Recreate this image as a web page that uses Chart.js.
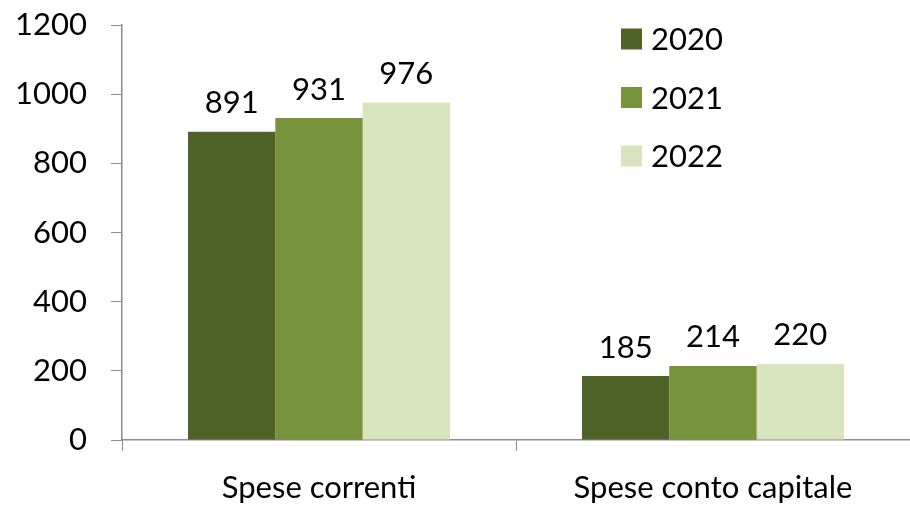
<!DOCTYPE html>
<html>
<head>
<meta charset="utf-8">
<script src="https://cdn.jsdelivr.net/npm/chart.js@4.4.1/dist/chart.umd.min.js"></script>
<style>
  html, body { margin: 0; padding: 0; background: #fff; }
  #wrap { width: 910px; height: 505px; }
</style>
</head>
<body>
<div id="wrap"><canvas id="chart"></canvas></div>
<script>
// dati del grafico
const categorie = ['Spese correnti', 'Spese conto capitale'];
const anni = ['2020', '2021', '2022'];
const valori2020 = [891, 185];
const valori2021 = [931, 214];
const valori2022 = [976, 220];
const colori = ['#4F6228', '#77933C', '#D7E4BD'];

const FONT = 'Lato, "Open Sans", sans-serif';
const AXIS = '#8c8c8c';

// etichette sopra le barre
const etichettePlugin = {
    id: 'etichette',
    afterDatasetsDraw(chart) {
        const ctx = chart.ctx;
        ctx.save();
        ctx.font = '31px ' + FONT;
        ctx.fillStyle = '#000';
        ctx.textAlign = 'center';
        ctx.textBaseline = 'bottom';
        chart.data.datasets.forEach((ds, i) => {
            chart.getDatasetMeta(i).data.forEach((bar, j) => {
                ctx.fillText(ds.data[j], bar.x, bar.y - 13);
            });
        });
        ctx.restore();
    }
};

// legenda disegnata in alto a destra
const legendaPlugin = {
    id: 'legenda',
    afterDraw(chart) {
        const ctx = chart.ctx;
        ctx.save();
        ctx.font = '31px ' + FONT;
        ctx.textBaseline = 'middle';
        chart.data.datasets.forEach((ds, i) => {
            const y = 39 + i * 58.5;
            ctx.fillStyle = ds.backgroundColor;
            ctx.fillRect(621, y - 10.5, 21, 21);
            ctx.fillStyle = '#000';
            ctx.fillText(ds.label, 651, y + 1);
        });
        ctx.restore();
    }
};

const datasets = [valori2020, valori2021, valori2022].map((valori, i) => ({
    label: anni[i],
    data: valori,
    backgroundColor: colori[i],
    borderWidth: 0,
    barPercentage: 1,
    categoryPercentage: 0.665
}));

new Chart(document.getElementById('chart'), {
    type: 'bar',
    data: { labels: categorie, datasets },
    options: {
        responsive: true,
        maintainAspectRatio: false,
        animation: false,
        layout: { padding: { top: 25, right: -4, bottom: 0, left: 0 } },
        plugins: { legend: { display: false }, tooltip: { enabled: false } },
        scales: {
            x: {
                grid: { drawOnChartArea: false, color: AXIS, tickLength: 11, offset: true },
                border: { color: AXIS, width: 1.5 },
                ticks: { color: '#000', font: { family: FONT, size: 31 }, padding: 18, maxRotation: 0 },
                afterFit(scale) {
                    scale.height = 65;
                    scale.paddingLeft = 0;
                    scale.paddingRight = 0;
                }
            },
            y: {
                min: 0,
                max: 1200,
                ticks: {
                    stepSize: 200,
                    color: '#000',
                    font: { family: FONT, size: 31 },
                    padding: 24,
                    callback: v => String(v)
                },
                grid: { drawOnChartArea: false, color: AXIS, tickLength: 11 },
                border: { color: AXIS, width: 1.5 },
                afterFit(scale) {
                    scale.width = 122;
                    scale.paddingTop = 0;
                    scale.paddingBottom = 0;
                }
            }
        }
    },
    plugins: [etichettePlugin, legendaPlugin]
});
</script>
</body>
</html>
